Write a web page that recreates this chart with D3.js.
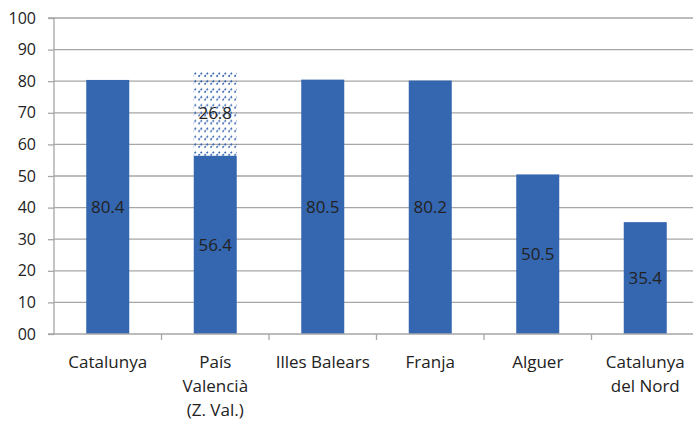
<!DOCTYPE html>
<html>
<head>
<meta charset="utf-8">
<script src="https://cdn.jsdelivr.net/npm/d3@7"></script>
<style>
  body { margin: 0; background: #fff; }
  text { font-family: "Open Sans", sans-serif; }
</style>
</head>
<body>
<div id="root"></div>
<script>
// chart data
var categories = ["Catalunya", "País\nValencià\n(Z. Val.)", "Illes Balears", "Franja", "Alguer", "Catalunya\ndel Nord"];
var baseValues = [80.4, 56.4, 80.5, 80.2, 50.5, 35.4];
var extraValues = [0, 26.8, 0, 0, 0, 0];
var yTicks = [0, 10, 20, 30, 40, 50, 60, 70, 80, 90, 100];

var width = 693, height = 421;
var margin = { top: 18, left: 54, right: -6, bottom: 87 };
var blue = "#3566b0";

var svg = d3.select("#root").append("svg")
    .attr("width", width)
    .attr("height", height);

// hatch pattern for the stacked segment
var defs = svg.append("defs");
var pat = defs.append("pattern")
    .attr("id", "hatch")
    .attr("patternUnits", "userSpaceOnUse")
    .attr("width", 6)
    .attr("height", 15.8);
pat.append("line")
    .attr("x1", 0.5).attr("y1", 5.5).attr("x2", 4).attr("y2", 1.5)
    .attr("stroke", blue).attr("stroke-width", 1.6)
    .attr("stroke-dasharray", "2,1.2");
pat.append("line")
    .attr("x1", 0.5).attr("y1", 13.5).attr("x2", 4).attr("y2", 9.5)
    .attr("stroke", blue).attr("stroke-width", 1.6)
    .attr("stroke-dasharray", "2,1.2");

var x = d3.scaleBand()
    .domain(d3.range(categories.length))
    .range([margin.left, width - margin.right])
    .paddingInner(0.6)
    .paddingOuter(0.3);

var xOuter = d3.scaleBand()
    .domain(d3.range(categories.length))
    .range([margin.left, width - margin.right]);

var y = d3.scaleLinear()
    .domain([0, 100])
    .range([height - margin.bottom, margin.top]);

// gridlines
svg.append("g")
    .selectAll("line")
    .data(yTicks.filter(function (d) { return d > 0; }))
    .enter()
    .append("line")
    .attr("x1", margin.left)
    .attr("x2", width)
    .attr("y1", function (d) { return y(d); })
    .attr("y2", function (d) { return y(d); })
    .attr("stroke", "#a6a6a6")
    .attr("stroke-width", 1.3);

// y axis
var yAxis = d3.axisLeft(y)
    .tickValues(yTicks)
    .tickSize(6)
    .tickFormat(function (d) { return d === 0 ? "00" : d; });

var yAxisGroup = svg.append("g")
    .attr("transform", "translate(" + margin.left + ",0)")
    .call(yAxis);
yAxisGroup.select(".domain").attr("stroke", "#a6a6a6").attr("stroke-width", 1.3)
    .attr("d", "M-6," + y(100) + "H0V" + y(0) + "H-6");
yAxisGroup.selectAll(".tick line").attr("stroke", "#a6a6a6").attr("stroke-width", 1.3);
yAxisGroup.selectAll(".tick text")
    .attr("x", -18)
    .attr("fill", "#222")
    .style("font-size", "16px");

// bars
var bars = svg.append("g");
bars.selectAll(".bar")
    .data(baseValues)
    .enter()
    .append("rect")
    .attr("x", function (d, i) { return x(i); })
    .attr("width", x.bandwidth())
    .attr("y", function (d) { return y(d); })
    .attr("height", function (d) { return y(0) - y(d); })
    .attr("fill", blue);

bars.selectAll(".extra")
    .data(extraValues)
    .enter()
    .filter(function (d) { return d > 0; })
    .append("rect")
    .attr("x", function (d) { return x(extraValues.indexOf(d)); })
    .attr("width", x.bandwidth())
    .attr("y", function (d) { var i = extraValues.indexOf(d); return y(baseValues[i] + d); })
    .attr("height", function (d) { return y(0) - y(d); })
    .attr("fill", "url(#hatch)");

// x axis line and ticks
var xAxisGroup = svg.append("g");
xAxisGroup.append("line")
    .attr("x1", margin.left).attr("x2", width)
    .attr("y1", y(0)).attr("y2", y(0))
    .attr("stroke", "#a6a6a6").attr("stroke-width", 1.3);
xAxisGroup.selectAll(".xtick")
    .data(d3.range(1, categories.length))
    .enter()
    .append("line")
    .attr("x1", function (i) { return xOuter(i); })
    .attr("x2", function (i) { return xOuter(i); })
    .attr("y1", y(0)).attr("y2", y(0) + 6)
    .attr("stroke", "#a6a6a6").attr("stroke-width", 1.3);

// category labels
var catLabels = svg.append("g");
categories.forEach(function (c, i) {
    var t = catLabels.append("text")
        .attr("text-anchor", "middle")
        .attr("fill", "#222")
        .style("font-size", "17px");
    c.split("\n").forEach(function (line, j) {
        t.append("tspan")
            .attr("x", x(i) + x.bandwidth() / 2)
            .attr("y", 368 + j * 24)
            .text(line);
    });
});

// value labels
var valLabels = svg.append("g");
baseValues.forEach(function (v, i) {
    valLabels.append("text")
        .attr("x", x(i) + x.bandwidth() / 2)
        .attr("y", y(v / 2))
        .attr("dy", "0.35em")
        .attr("text-anchor", "middle")
        .attr("fill", "#222")
        .style("font-size", "17px")
        .text(v.toFixed(1));
    if (extraValues[i] > 0) {
        valLabels.append("text")
            .attr("x", x(i) + x.bandwidth() / 2)
            .attr("y", y(v + extraValues[i] / 2))
            .attr("dy", "0.35em")
            .attr("text-anchor", "middle")
            .attr("fill", "#222")
            .style("font-size", "17px")
            .text(extraValues[i].toFixed(1));
    }
});
</script>
</body>
</html>
